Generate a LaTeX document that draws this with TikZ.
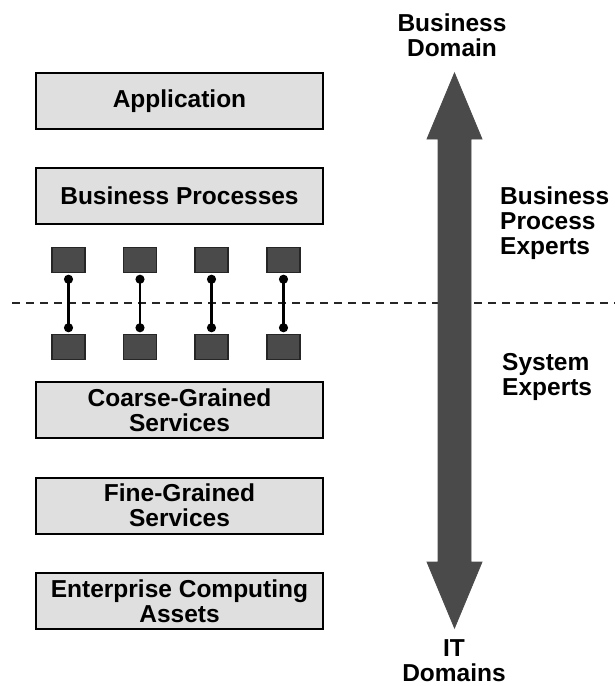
\documentclass[tikz,border=0pt]{standalone}
\usepackage{fontspec}
\setmainfont{Liberation Sans}
\usepackage{tikz}
\usetikzlibrary{arrows.meta}
\definecolor{boxgray}{RGB}{223,223,223}
\definecolor{darkgray}{RGB}{74,74,74}
\tikzstyle{layer}=[draw=black, line width=2pt, fill=boxgray, minimum width=287, minimum height=56, inner sep=0pt, align=center, font=\bfseries\fontsize{24.5}{25}\selectfont]
\tikzstyle{block}=[draw=black!85, line width=1.5pt, fill=darkgray, minimum width=33, minimum height=25, inner sep=0pt]
\tikzstyle{link}=[line width=2.2pt, {Circle[length=9pt]}-{Circle[length=9pt]}, shorten <=1.5pt, shorten >=1.5pt]
\tikzstyle{labelsty}=[inner sep=0pt, font=\bfseries\fontsize{24.5}{25}\selectfont]

\begin{document}
\begin{tikzpicture}[x=1pt, y=-1pt]
					\useasboundingbox (0,0) rectangle (615,686);
					
					% layers
					\node[layer] (app) at (179.5,101) {Application};
					\node[layer] (bp) at (179.5,195.5) {Business Processes};
					\node[layer] (coarse) at (179.5,410) {Coarse-Grained\\Services};
					\node[layer] (fine) at (179.5,505.5) {Fine-Grained\\Services};
					\node[layer] (assets) at (179.5,601) {Enterprise Computing\\Assets};
					
					% dashed boundary
					\coordinate (dl) at (12,303);
					\coordinate (dr) at (615,303);
					\draw[line width=2.5pt, black!85, dash pattern=on 8pt off 6pt] (dl) -- (dr);
					
					% process steps bound to services
					\foreach \i/\x in {1/68.5,2/140,3/211.5,4/283.5}{
						\node[block] (p\i) at (\x,260) {};
						\node[block] (s\i) at (\x,347) {};
						\draw[link] (p\i) -- (s\i);
					}
					
					% big double arrow
					\coordinate (top) at (454.5,73);
					\coordinate (bot) at (454.5,628);
					\fill[darkgray, draw=black!70, line width=0.8pt] (top) -- (482,139) -- (471,139) -- (471,562) -- (482,562) -- (bot) -- (427,562) -- (438,562) -- (438,139) -- (427,139) -- cycle;
					
					\node[labelsty, align=center] (bdom) at (452,35) {Business\\Domain};
					\node[labelsty, align=left, anchor=west] (bpe) at (500,223.5) {Business\\Process\\Experts};
					\node[labelsty, align=left, anchor=west] (sysx) at (502,377) {System\\Experts};
					\node[labelsty, align=center] (itdom) at (454,661) {IT\\Domains};
				\end{tikzpicture}
\end{document}
